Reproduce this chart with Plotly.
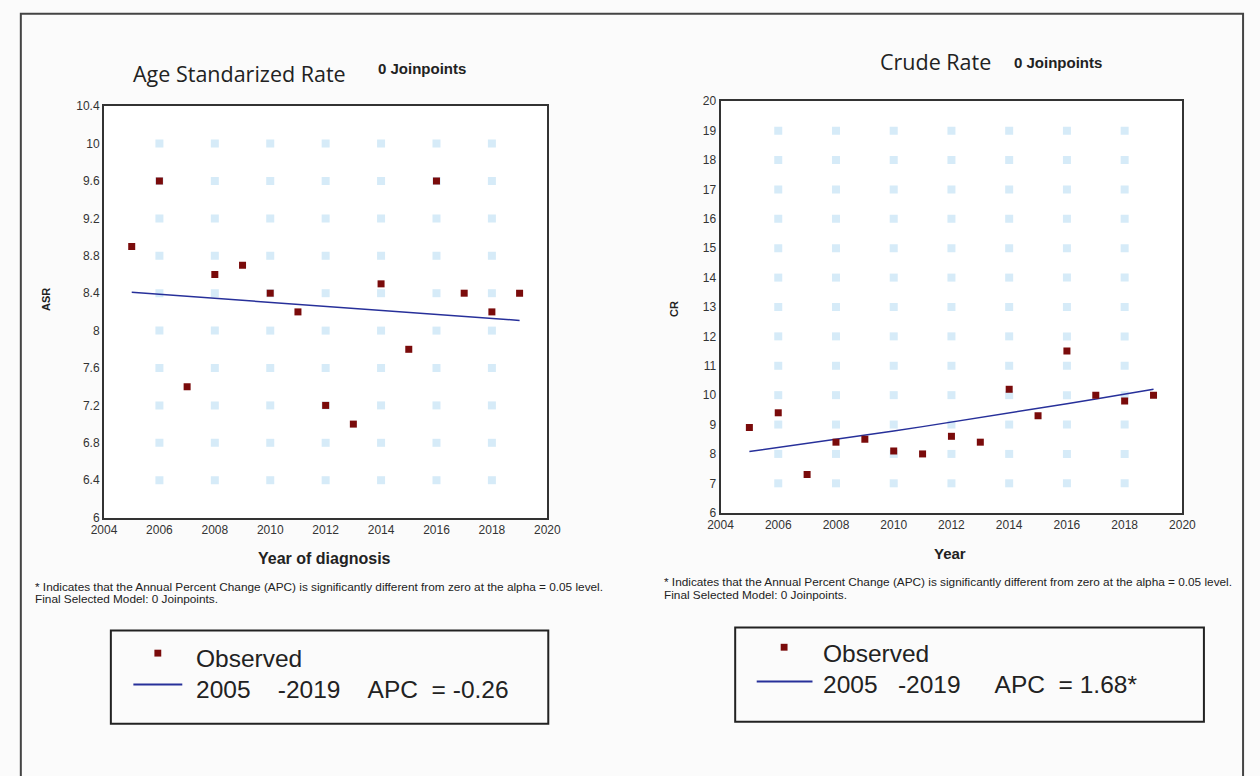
import plotly.graph_objects as go

# ---- data -------------------------------------------------------------
years = list(range(2005, 2020))

asr_observed = [8.9, 9.6, 7.4, 8.6, 8.7, 8.4, 8.2, 7.2, 7.0, 8.5, 7.8, 9.6, 8.4, 8.2, 8.4]
cr_observed = [8.9, 9.4, 7.3, 8.4, 8.5, 8.1, 8.0, 8.6, 8.4, 10.2, 9.3, 11.5, 10.0, 9.8, 10.0]

# joinpoint model: single segment, fitted value in the first year + APC
asr_apc = -0.26
asr_fit_start = 8.41
cr_apc = 1.68
cr_fit_start = 8.08

x_ticks = list(range(2004, 2021, 2))
asr_ticks = [6, 6.4, 6.8, 7.2, 7.6, 8, 8.4, 8.8, 9.2, 9.6, 10, 10.4]
cr_ticks = list(range(6, 21))

W, H = 1260, 776


def px(x):
    return x / W


def py(y):
    return 1 - y / H


def fitted(start, apc):
    return [start * (1 + apc / 100) ** (yr - years[0]) for yr in years]


FONT = "Open Sans"
SANS = "Liberation Sans"
TXT = "#222222"
MARK = "#7a0b0b"
LINE = "#27309a"
DOT = "#d6ebf8"

fig = go.Figure()


# grid dots at interior tick intersections
def dot_grid(xt, yt, xa, ya):
    xs, ys = [], []
    for yv in yt[1:-1]:
        for xv in xt[1:-1]:
            xs.append(xv)
            ys.append(yv)
    fig.add_trace(go.Scatter(x=xs, y=ys, mode="markers", xaxis=xa, yaxis=ya,
                             marker=dict(symbol="square", size=8, color=DOT),
                             hoverinfo="skip", showlegend=False))


dot_grid(x_ticks, asr_ticks, "x", "y")
dot_grid(x_ticks, cr_ticks, "x2", "y2")

# left panel: age standardized rate
fig.add_trace(go.Scatter(x=years, y=fitted(asr_fit_start, asr_apc), mode="lines",
                         line=dict(color=LINE, width=1.5), xaxis="x", yaxis="y",
                         showlegend=False))
fig.add_trace(go.Scatter(x=years, y=asr_observed, mode="markers",
                         marker=dict(symbol="square", size=7, color=MARK),
                         xaxis="x", yaxis="y", showlegend=False))

# right panel: crude rate
fig.add_trace(go.Scatter(x=years, y=fitted(cr_fit_start, cr_apc), mode="lines",
                         line=dict(color=LINE, width=1.5), xaxis="x2", yaxis="y2",
                         showlegend=False))
fig.add_trace(go.Scatter(x=years, y=cr_observed, mode="markers",
                         marker=dict(symbol="square", size=7, color=MARK),
                         xaxis="x2", yaxis="y2", showlegend=False))

axis_common = dict(showline=True, linecolor="#333333", linewidth=2, mirror=True,
                   showgrid=False, zeroline=False, ticks="",
                   tickfont=dict(family=SANS, size=12, color="#333333"))

fig.update_layout(
    width=W, height=H,
    margin=dict(l=0, r=0, t=0, b=0),
    paper_bgcolor="#fbfbfb", plot_bgcolor="#ffffff",
    font=dict(family=FONT, color=TXT),
    xaxis=dict(domain=[px(93), px(546)], anchor="y", range=[2004, 2020],
               tickvals=x_ticks, **axis_common),
    yaxis=dict(domain=[py(520), py(101)], anchor="x", range=[6, 10.4],
               tickvals=asr_ticks, ticktext=[f"{v:g}" for v in asr_ticks], **axis_common),
    xaxis2=dict(domain=[px(723), px(1195)], anchor="y2", range=[2004, 2020],
                tickvals=x_ticks, **axis_common),
    yaxis2=dict(domain=[py(515), py(96)], anchor="x2", range=[6, 20],
                tickvals=cr_ticks, **axis_common),
)

ann = []


def text(x, y, s, size, bold=False, family=FONT, xanchor="center", angle=0):
    ann.append(dict(x=px(x), y=py(y), xref="paper", yref="paper", showarrow=False,
                    text=f"<b>{s}</b>" if bold else s, textangle=angle,
                    xanchor=xanchor, yanchor="middle",
                    font=dict(family=family, size=size, color=TXT)))


# titles
text(231, 68, "Age Standarized Rate", 21.5)
text(418, 63, "0 Joinpoints", 15, bold=True, family=SANS)
text(943, 56, "Crude Rate", 21.5)
text(1068, 57, "0 Joinpoints", 15, bold=True, family=SANS)

# axis titles
text(318, 562, "Year of diagnosis", 16, bold=True, family=SANS)
text(33, 298, "ASR", 11, bold=True, family=SANS, angle=-90)
text(958, 557, "Year", 15, bold=True, family=SANS)
text(676, 308, "CR", 11, bold=True, family=SANS, angle=-90)

# footnotes
note1 = "* Indicates that the Annual Percent Change (APC) is significantly different from zero at the alpha = 0.05 level."
note2 = "Final Selected Model: 0 Joinpoints."
text(20, 591, note1, 11.8, family=SANS, xanchor="left")
text(20, 603, note2, 11.8, family=SANS, xanchor="left")
text(663, 586, note1, 11.8, family=SANS, xanchor="left")
text(663, 599, note2, 11.8, family=SANS, xanchor="left")

NB = "&nbsp;"


def apc_label(apc, significant, gaps):
    parts = ["2005", "-2019", "APC", f"= {apc:g}" + ("*" if significant else "")]
    out = parts[0]
    for g, p in zip(gaps, parts[1:]):
        out += NB * g + p
    return out


text(185, 663, "Observed", 24.5, family=SANS, xanchor="left")
text(185, 695, apc_label(asr_apc, False, (4, 4, 2)), 24.5, family=SANS, xanchor="left")
text(826, 658, "Observed", 24.5, family=SANS, xanchor="left")
text(826, 690, apc_label(cr_apc, True, (3, 5, 2)), 24.5, family=SANS, xanchor="left")

shapes = []


def rect(x0, y0, x1, y1, color="#222222", width=2, fill=None):
    shapes.append(dict(type="rect", xref="paper", yref="paper",
                       x0=px(x0), x1=px(x1), y0=py(y1), y1=py(y0),
                       line=dict(color=color, width=width),
                       fillcolor=fill or "rgba(0,0,0,0)"))


def hline(x0, x1, y, color, width):
    shapes.append(dict(type="line", xref="paper", yref="paper",
                       x0=px(x0), x1=px(x1), y0=py(y), y1=py(y),
                       line=dict(color=color, width=width)))


# outer frame
rect(8, 7, 1257, 790, color="#444444", width=2)

# legend boxes and their keys
rect(100, 635, 547, 730)
rect(148 - 3.5, 658 - 3.5, 148 + 3.5, 658 + 3.5, color=MARK, width=0, fill=MARK)
hline(123, 173, 690, LINE, 2)

rect(738, 632, 1217, 728)
rect(788 - 3.5, 652 - 3.5, 788 + 3.5, 652 + 3.5, color=MARK, width=0, fill=MARK)
hline(760, 817, 687, LINE, 2)

fig.update_layout(annotations=ann, shapes=shapes)

fig.write_html("out.html")
